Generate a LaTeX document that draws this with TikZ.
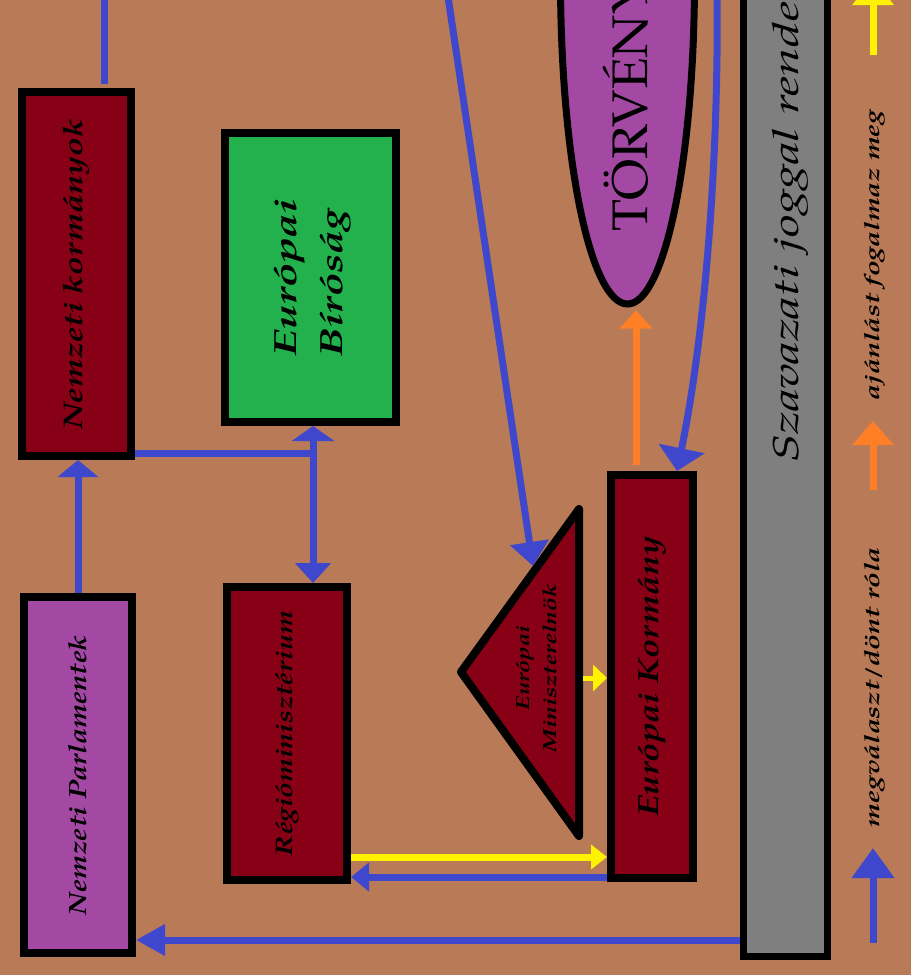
\documentclass[tikz,border=0pt]{standalone}
\usepackage{fontspec}
\setmainfont{TeX Gyre Pagella}
\usepackage{graphicx}
\usetikzlibrary{arrows.meta,shapes.geometric}
\definecolor{bgc}{HTML}{B97A57}
\definecolor{dred}{HTML}{880015}
\definecolor{purp}{HTML}{A349A4}
\definecolor{grn}{HTML}{22B14C}
\definecolor{gry}{HTML}{7F7F7F}
\definecolor{blu}{HTML}{3F48CC}
\definecolor{yel}{HTML}{FFF200}
\definecolor{org}{HTML}{FF7F27}
\newcommand\fitw[2]{\resizebox{#1}{\height}{#2}}
\begin{document}
\begin{tikzpicture}[x=1pt,y=-1pt,
  box/.style={draw=black,line width=8pt,inner sep=0pt},
  lbl/.style={text=black,inner sep=0pt},
  bfi/.style={font=\bfseries\itshape\fontsize{#1}{#1}\selectfont},
  bli/.style={draw=blu,line width=7pt},
  yli/.style={draw=yel,line width=7pt},
  oli/.style={draw=org,line width=7pt}]
\fill[bgc] (0,0) rectangle (911,975);
\useasboundingbox (0,0) rectangle (911,975);
\clip (0,0) rectangle (911,975);

% boxes
\node[box,fill=dred,minimum width=109pt,minimum height=364pt,bfi=27] (nk) at (76.5,274)
  {\rotatebox{90}{\fitw{311pt}{Nemzeti kormányok}}};
\node[box,fill=grn,minimum width=171pt,minimum height=289pt,
  font=\bfseries\itshape\fontsize{32}{46}\selectfont] (eb) at (310.5,277.5)
  {\rotatebox{90}{\begin{tabular}{@{}l@{}}\fitw{157pt}{Európai}\\\fitw{147pt}{Bíróság}\end{tabular}}};
\node[box,fill=purp,minimum width=108pt,minimum height=356pt,bfi=25] (np) at (78,775)
  {\rotatebox{90}{\fitw{280pt}{Nemzeti Parlamentek}}};
\node[box,fill=dred,minimum width=120pt,minimum height=293pt,bfi=24] (rm) at (287,733.5)
  {\rotatebox{90}{\fitw{245pt}{Régióminisztérium}}};
\node[box,fill=dred,minimum width=82pt,minimum height=403pt,bfi=29] (ek) at (652,676.5)
  {\rotatebox{90}{\fitw{280pt}{Európai Kormány}}};
\node[box,line width=7pt,fill=gry,minimum width=84pt,minimum height=990pt] (gb) at (785,461) {};
\node[lbl,rotate=90,anchor=base west,font=\itshape\fontsize{36}{36}\selectfont,text=black] (gbt)
  at (798,463) {\fitw{475pt}{Szavazati joggal rendel}};

% law ellipse
\node[ellipse,draw=black,line width=7pt,fill=purp,minimum width=134pt,minimum height=650pt,inner sep=0pt]
  (tv) at (627.5,-21) {};
\node[lbl,rotate=90,anchor=base west,font=\fontsize{50}{50}\selectfont,text=black] (tvt)
  at (647,232) {\fitw{252pt}{TÖRVÉNY}};

% prime minister triangle
\draw[line width=8pt,line join=round,fill=dred] (461,672) -- (579,509) -- (579,836) -- cycle;
\node[lbl,rotate=90,align=center,font=\bfseries\itshape\fontsize{19}{27}\selectfont] (em)
  at (537,668) {\fitw{85pt}{Európai}\\\fitw{168pt}{Miniszterelnök}};
\coordinate (emtop) at (533,566);
\coordinate (embase) at (583,678);

% free ends and guide coordinates
\coordinate (topA) at (104,-10);
\coordinate (topB) at (717,-10);
\coordinate (topC) at (447,-10);
\coordinate (vx) at (313,0);
\coordinate (ox) at (636,0);
\coordinate (bx) at (677,0);
\coordinate (r1) at (0,857);
\coordinate (r2) at (0,877);
\coordinate (r3) at (0,940);

% connectors
\draw[bli] (topA) -- ([yshift=4pt]topA |- nk.north);
\draw[bli,-{Triangle[width=40pt,length=17pt]}] (np.north) -- (np.north |- nk.south);
\draw[bli] ([yshift=7pt]nk.south east) -- ([yshift=7pt]nk.south east -| vx);
\draw[bli,{Triangle[width=42pt,length=15pt]}-{Triangle[width=35pt,length=20pt]}] (vx |- eb.south) -- (vx |- rm.north);
\draw[yli,-{Triangle[width=24pt,length=16pt]}] (rm.east |- r1) -- (ek.west |- r1);
\draw[bli,-{Triangle[width=28pt,length=18pt]}] (ek.west |- r2) -- (rm.east |- r2);
\draw[bli,-{Triangle[width=30pt,length=29pt]}] (gb.west |- r3) -- (np.east |- r3);
\draw[oli,-{Triangle[width=32pt,length=18pt]}] ([yshift=6pt]ox |- ek.north) -- ([yshift=-3pt]ox |- tv.south);
\draw[bli,-{Triangle[width=46pt,length=23pt]}] (topB) .. controls (719,150) and (706,330) .. (bx |- ek.north);
\draw[bli,-{Triangle[width=38pt,length=24pt]}] (topC) -- (emtop);
\draw[draw=yel,line width=5pt,-{Triangle[width=26pt,length=14pt]}] (embase) -- (embase -| ek.west);

% legend
\coordinate (l1a) at (873,943);
\coordinate (l1b) at (873,848);
\coordinate (l2a) at (873,490);
\coordinate (l2b) at (873,421);
\coordinate (l3a) at (873,55);
\coordinate (l3b) at (873,-22);
\draw[bli,-{Triangle[width=41pt,length=30pt]}] (l1a) -- (l1b);
\draw[oli,-{Triangle[width=40pt,length=24pt]}] (l2a) -- (l2b);
\draw[yli,-{Triangle[width=40pt,length=27pt]}] (l3a) -- (l3b);
\node[lbl,bfi=21] (t1) at (875,687) {\rotatebox{90}{\fitw{280pt}{megválaszt/dönt róla}}};
\node[lbl,bfi=21] (t2) at (875,255) {\rotatebox{90}{\fitw{290pt}{ajánlást fogalmaz meg}}};
\end{tikzpicture}
\end{document}
